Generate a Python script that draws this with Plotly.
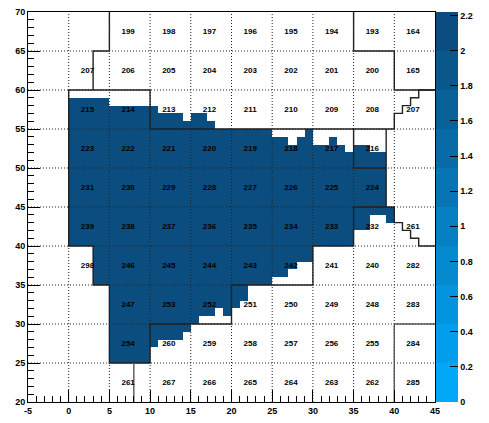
import plotly.graph_objects as go

# ---------------- data ----------------
x_range = [-5, 45]
y_range = [20, 70]

# filled 1-unit columns: lower x edge, and filled y interval [bottom, top)
fill_columns = list(range(0, 40))
fill_bottom = [40, 40, 40, 35, 35, 25, 25, 25, 25, 25,
               27, 28, 28, 28, 29, 30, 31, 31, 32, 31,
               32, 33, 35, 35, 35, 36, 36, 37, 38, 38,
               40, 40, 40, 40, 40, 42, 42, 44, 44, 43]
fill_top = [59, 59, 59, 59, 59, 58, 58, 58, 58, 58,
            58, 57, 57, 57, 56, 57, 57, 56, 55, 55,
            55, 55, 55, 55, 55, 54, 54, 53, 54, 55,
            53, 53, 54, 53, 52, 53, 53, 52, 52, 45]
fill_value = 2.1

# cell labels (5x5 cells): columns by lower x edge, rows by lower y edge
label_cols = [0, 5, 10, 15, 20, 25, 30, 35, 40]
label_rows = [65, 60, 55, 50, 45, 40, 35, 30, 25, 20]
cell_labels = [
    ["", "199", "198", "197", "196", "195", "194", "193", "164"],
    ["207", "206", "205", "204", "203", "202", "201", "200", "165"],
    ["215", "214", "213", "212", "211", "210", "209", "208", "207"],
    ["223", "222", "221", "220", "219", "218", "217", "216", ""],
    ["231", "230", "229", "228", "227", "226", "225", "224", ""],
    ["239", "238", "237", "236", "235", "234", "233", "232", "261"],
    ["298", "246", "245", "244", "243", "242", "241", "240", "282"],
    ["", "247", "253", "252", "251", "250", "249", "248", "283"],
    ["", "254", "260", "259", "258", "257", "256", "255", "284"],
    ["", "261", "267", "266", "265", "264", "263", "262", "285"],
]

# outline polylines (x list, y list)
outline_a_x = [5, 5, 3, 3]
outline_a_y = [70, 65, 65, 60]
outline_b_x = [0, 0, 3, 3, 5, 5, 10, 10, 20, 20, 30, 30, 35, 35, 40, 40, 41, 41, 42, 42, 43, 43, 45]
outline_b_y = [60, 40, 40, 35, 35, 25, 25, 30, 30, 35, 35, 40, 40, 45, 45, 43, 43, 42, 42, 41, 41, 40, 40]
outline_c_x = [0, 10, 10, 40, 40, 41, 41, 42, 42, 43, 43, 45]
outline_c_y = [60, 60, 55, 55, 57, 57, 58, 58, 59, 59, 60, 60]
outline_d_x = [39, 39]
outline_d_y = [55, 45]
outline_e_x = [35, 35, 39]
outline_e_y = [55, 50, 50]
outline_f_x = [35, 35, 40, 40, 45]
outline_f_y = [70, 65, 65, 60, 60]
outline_g_x = [8, 8]
outline_g_y = [25, 20]
outline_h_x = [45, 40, 40]
outline_h_y = [30, 30, 20]

grid_x = [0, 5, 10, 15, 20, 25, 30, 35, 40]
grid_y = [25, 30, 35, 40, 45, 50, 55, 60, 65]

x_ticks = [-5, 0, 5, 10, 15, 20, 25, 30, 35, 40, 45]
y_ticks = [20, 25, 30, 35, 40, 45, 50, 55, 60, 65, 70]
cbar_ticks = [0, 0.2, 0.4, 0.6, 0.8, 1.0, 1.2, 1.4, 1.6, 1.8, 2.0, 2.2]
cbar_labels = ["0", "0.2", "0.4", "0.6", "0.8", "1", "1.2", "1.4", "1.6", "1.8", "2", "2.2"]
z_max = 2.22

# ---------------- build figure ----------------
xs = list(range(x_range[0], x_range[1]))
ys = list(range(y_range[0], y_range[1]))
z = []
for yv in ys:
    row = []
    for xv in xs:
        val = None
        if xv in fill_columns:
            k = fill_columns.index(xv)
            if fill_bottom[k] <= yv < fill_top[k]:
                val = fill_value
        row.append(val)
    z.append(row)

# stepped palette (10 bands) light blue -> dark blue
c0 = (2, 168, 248)
c1 = (11, 77, 127)
nb = 10
colorscale = []
for i in range(nb):
    t = i / (nb - 1)
    c = tuple(round(c0[j] + (c1[j] - c0[j]) * t) for j in range(3))
    col = "rgb(%d,%d,%d)" % c
    colorscale.append([i / nb, col])
    colorscale.append([(i + 1) / nb, col])

fig = go.Figure()
fig.add_trace(go.Heatmap(
    x=[v + 0.5 for v in xs], y=[v + 0.5 for v in ys], z=z,
    zmin=0, zmax=z_max, colorscale=colorscale, hoverinfo="skip",
    colorbar=dict(x=1.0, xanchor="left", xpad=1, thickness=22, len=1, lenmode="fraction",
                  y=0.5, yanchor="middle", ypad=0, ticks="inside", ticklen=8,
                  tickcolor="black", tickvals=cbar_ticks, ticktext=cbar_labels,
                  tickfont=dict(size=9, color="black", family="Arial", weight="bold"),
                  outlinewidth=0),
))

# dotted grid over the fill
gx, gy = [], []
for v in grid_x:
    gx += [v, v, None]
    gy += [y_range[0], y_range[1], None]
for v in grid_y:
    gx += [x_range[0], x_range[1], None]
    gy += [v, v, None]
fig.add_trace(go.Scatter(x=gx, y=gy, mode="lines", hoverinfo="skip",
                         line=dict(color="#222", width=1, dash="1px,2px")))

dark_lines = [(outline_a_x, outline_a_y), (outline_b_x, outline_b_y), (outline_c_x, outline_c_y),
              (outline_d_x, outline_d_y), (outline_e_x, outline_e_y), (outline_f_x, outline_f_y)]
for lx, ly in dark_lines:
    fig.add_trace(go.Scatter(x=lx, y=ly, mode="lines", hoverinfo="skip",
                             line=dict(color="#222", width=1.4)))
for lx, ly in [(outline_g_x, outline_g_y), (outline_h_x, outline_h_y)]:
    fig.add_trace(go.Scatter(x=lx, y=ly, mode="lines", hoverinfo="skip",
                             line=dict(color="#555", width=1.4)))

tx, ty, tt = [], [], []
for r, yl in enumerate(label_rows):
    for c, xl in enumerate(label_cols):
        if cell_labels[r][c]:
            tx.append(xl + 2.3)
            ty.append(yl + 2.4)
            tt.append(cell_labels[r][c])
fig.add_trace(go.Scatter(x=tx, y=ty, text=tt, mode="text", hoverinfo="skip",
                         textposition="middle center",
                         textfont=dict(size=8, color="black", family="Arial", weight="bold")))

axis_common = dict(showgrid=False, zeroline=False, showline=True, linecolor="black",
                   linewidth=1, mirror=True, ticks="inside", ticklen=12, tickwidth=1,
                   tickcolor="black",
                   tickfont=dict(size=9, color="black", family="Arial", weight="bold"),
                   minor=dict(dtick=1, ticks="inside", ticklen=6, tickcolor="black", showgrid=False))
fig.update_xaxes(range=x_range, tickvals=x_ticks, ticktext=[str(v) for v in x_ticks], **axis_common)
fig.update_yaxes(range=y_range, tickvals=y_ticks, ticktext=[str(v) for v in y_ticks], **axis_common)

fig.update_layout(width=489, height=423, margin=dict(l=28, r=37, t=7, b=13),
                  plot_bgcolor="white", paper_bgcolor="white", showlegend=False)

fig.write_html("out.html", config={"displayModeBar": False},
               post_script="document.body.style.margin='0';document.body.style.overflow='hidden';")
